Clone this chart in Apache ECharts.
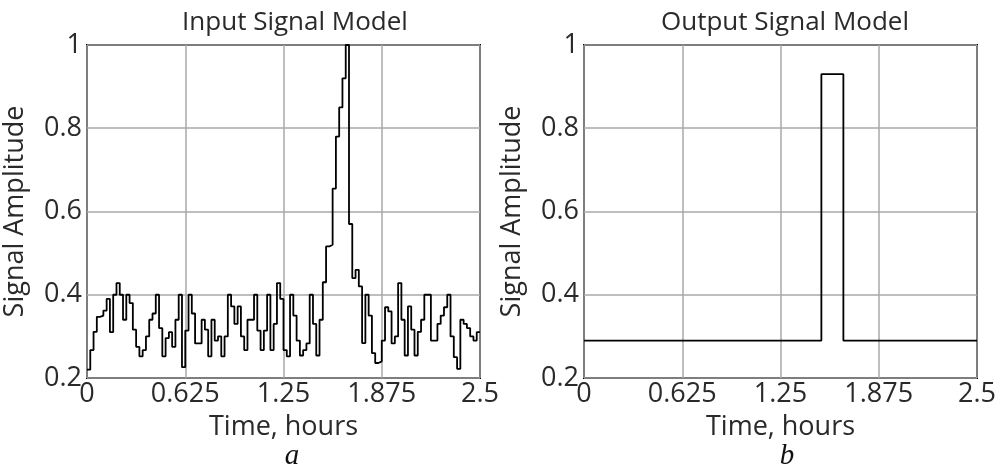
<!DOCTYPE html>
<html>
<head>
<meta charset="utf-8">
<script src="https://cdn.jsdelivr.net/npm/echarts@6/dist/echarts.min.js"></script>
<style>
  html, body { margin: 0; padding: 0; background: #fff; }
  #chart { width: 1004px; height: 470px; }
</style>
</head>
<body>
<div id="chart"></div>
<script>
// ---- Data ----
const xTicks = [0, 0.625, 1.25, 1.875, 2.5];
const yTicks = [0.2, 0.4, 0.6, 0.8, 1];
const sampleStep = 2.5 / 120; // hours per input sample

const inputValues = [
  0.22, 0.267, 0.311, 0.347, 0.35, 0.362, 0.39, 0.31, 0.40, 0.428,
  0.40, 0.34, 0.40, 0.38, 0.316, 0.275, 0.252, 0.267, 0.30, 0.34,
  0.355, 0.40, 0.32, 0.252, 0.296, 0.31, 0.275, 0.34, 0.40, 0.226,
  0.314, 0.40, 0.355, 0.283, 0.283, 0.34, 0.316, 0.252, 0.34, 0.29,
  0.30, 0.252, 0.30, 0.40, 0.372, 0.33, 0.372, 0.30, 0.267, 0.34,
  0.34, 0.40, 0.314, 0.267, 0.314, 0.40, 0.267, 0.33, 0.428, 0.39,
  0.267, 0.252, 0.40, 0.35, 0.29, 0.254, 0.267, 0.283, 0.40, 0.33,
  0.254, 0.34, 0.43, 0.516, 0.52, 0.655, 0.78, 0.85, 0.92, 1.0,
  0.57, 0.44, 0.46, 0.42, 0.284, 0.40, 0.35, 0.26, 0.236, 0.24,
  0.29, 0.37, 0.36, 0.283, 0.30, 0.428, 0.34, 0.254, 0.372, 0.316,
  0.254, 0.311, 0.34, 0.40, 0.40, 0.29, 0.29, 0.33, 0.35, 0.37,
  0.40, 0.30, 0.25, 0.222, 0.34, 0.33, 0.32, 0.30, 0.29, 0.31
];

const outputTimes = [0, 1.51, 1.65, 2.5];
const outputValues = [0.29, 0.93, 0.29, 0.29];

// ---- Build series data ----
const inputData = inputValues.map((v, i) => [i * sampleStep, v]);
inputData.push([inputValues.length * sampleStep, inputValues[inputValues.length - 1]]);
const outputData = outputTimes.map((t, i) => [t, outputValues[i]]);

const FONT = 'Open Sans';
const TXT = '#2a2a2a';
const FS = 27;

function xAxis(gi) {
  return {
    type: 'value', gridIndex: gi, min: xTicks[0], max: xTicks[xTicks.length - 1],
    interval: 0.625,
    name: 'Time, hours', nameLocation: 'middle', nameGap: 36,
    nameTextStyle: { fontFamily: FONT, fontSize: FS, color: TXT },
    axisLine: { show: false }, axisTick: { show: false },
    axisLabel: { fontFamily: FONT, fontSize: FS, color: TXT, margin: 3,
      formatter: v => String(+v.toFixed(3)) },
    splitLine: { show: true, lineStyle: { color: '#a8a8a8', width: 1.5 } }
  };
}
function yAxis(gi) {
  return {
    type: 'value', gridIndex: gi, min: yTicks[0], max: yTicks[yTicks.length - 1],
    interval: 0.2,
    name: 'Signal Amplitude', nameLocation: 'middle', nameGap: 58,
    nameTextStyle: { fontFamily: FONT, fontSize: FS, color: TXT },
    axisLine: { show: false }, axisTick: { show: false },
    axisLabel: { fontFamily: FONT, fontSize: FS, color: TXT, margin: 5,
      formatter: v => String(+v.toFixed(1)) },
    splitLine: { show: true, lineStyle: { color: '#a8a8a8', width: 1.5 } }
  };
}

const chart = echarts.init(document.getElementById('chart'), null, { renderer: 'canvas' });
chart.setOption({
  backgroundColor: '#fff',
  animation: false,
  title: [
    { text: 'Input Signal Model', left: 290, top: 5, textAlign: 'center',
      textStyle: { fontFamily: FONT, fontSize: 26, fontWeight: 'normal', color: TXT } },
    { text: 'Output Signal Model', left: 780, top: 5, textAlign: 'center',
      textStyle: { fontFamily: FONT, fontSize: 26, fontWeight: 'normal', color: TXT } },
    { text: 'a', left: 287, top: 437, textAlign: 'center',
      textStyle: { fontFamily: 'Liberation Serif', fontSize: 29, fontStyle: 'italic', fontWeight: 'normal', color: '#111' } },
    { text: 'b', left: 782, top: 437, textAlign: 'center',
      textStyle: { fontFamily: 'Liberation Serif', fontSize: 29, fontStyle: 'italic', fontWeight: 'normal', color: '#111' } }
  ],
  grid: [
    { left: 87, right: 524, top: 45, bottom: 92, show: true, borderColor: '#000', borderWidth: 2, backgroundColor: 'transparent' },
    { left: 584, right: 27, top: 45, bottom: 92, show: true, borderColor: '#000', borderWidth: 2, backgroundColor: 'transparent' }
  ],
  xAxis: [xAxis(0), xAxis(1)],
  yAxis: [yAxis(0), yAxis(1)],
  series: [
    { type: 'line', xAxisIndex: 0, yAxisIndex: 0, step: 'end', data: inputData,
      showSymbol: false, lineStyle: { color: '#000', width: 1.8 }, z: 3 },
    { type: 'line', xAxisIndex: 1, yAxisIndex: 1, step: 'end', data: outputData,
      showSymbol: false, lineStyle: { color: '#000', width: 1.8 }, z: 3 }
  ]
});
</script>
</body>
</html>
